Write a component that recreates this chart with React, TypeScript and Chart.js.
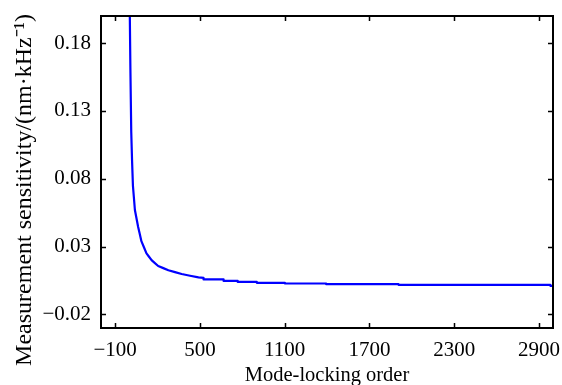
import React, { useEffect, useRef } from "react";
import { Chart, registerables } from "chart.js";

Chart.register(...registerables);

const orderValues = [
  4, 8, 14, 20, 26, 40, 63, 86, 122, 158, 205, 277, 371, 490,
  526, 526, 668, 668, 768, 768, 903, 903, 1102, 1102, 1394, 1394, 1906, 1906, 2981, 2981, 3000,
];
const sensitivityValues = [
  0.2, 0.162, 0.115, 0.093, 0.075, 0.057, 0.0445, 0.034, 0.025, 0.02, 0.0157, 0.0126, 0.0098, 0.0073,
  0.0069, 0.0058, 0.0058, 0.0047, 0.0047, 0.004, 0.004, 0.0033, 0.0033, 0.0028, 0.0028, 0.0023, 0.0023, 0.0018, 0.0018, 0.0011, 0.0011,
];
const xTickValues = [-100, 500, 1100, 1700, 2300, 2900];
const yTickValues = [-0.02, 0.03, 0.08, 0.13, 0.18];

const xTitle = "Mode-locking order";
const yTitle = "Measurement sensitivity/(nm\u00b7kHz\u207b\u00b9)";

const FONT = "'Liberation Serif', 'Times New Roman', serif";

const fmt = (v: number, digits: number) => {
  const s = v.toFixed(digits);
  return s.startsWith("-") ? "\u2212" + s.slice(1) : s;
};

const framePlugin = {
  id: "frame",
  afterDraw(chart: any) {
    const { ctx, chartArea } = chart;
    const { left, right, top, bottom } = chartArea;
    const xs = chart.scales.x;
    const ys = chart.scales.y;
    const tl = 5;
    ctx.save();
    ctx.strokeStyle = "#000";
    ctx.lineWidth = 1.5;
    ctx.beginPath();
    for (const v of xTickValues) {
      const px = Math.round(xs.getPixelForValue(v)) + 0.5;
      ctx.moveTo(px, bottom);
      ctx.lineTo(px, bottom - tl);
      ctx.moveTo(px, top);
      ctx.lineTo(px, top + tl);
    }
    for (const v of yTickValues) {
      const py = Math.round(ys.getPixelForValue(v)) + 0.5;
      ctx.moveTo(left, py);
      ctx.lineTo(left + tl, py);
      ctx.moveTo(right, py);
      ctx.lineTo(right - tl, py);
    }
    ctx.stroke();
    ctx.lineWidth = 2;
    ctx.strokeRect(left, top, right - left, bottom - top);
    // y axis title
    ctx.fillStyle = "#000";
    ctx.font = `24px ${FONT}`;
    ctx.translate(31, 190);
    ctx.rotate(-Math.PI / 2);
    ctx.textAlign = "center";
    ctx.textBaseline = "alphabetic";
    ctx.fillText(yTitle, 0, 0);
    ctx.restore();
  },
};

const zeroPad = (s: any) => {
  s.paddingTop = 0;
  s.paddingBottom = 0;
  s.paddingLeft = 0;
  s.paddingRight = 0;
};

export default function App() {
  const ref = useRef<HTMLCanvasElement | null>(null);
  useEffect(() => {
    if (!ref.current) return;
    const points = orderValues.map((x, i) => ({ x, y: sensitivityValues[i] }));
    const chart = new Chart(ref.current, {
      type: "line",
      data: {
        datasets: [
          {
            data: points,
            borderColor: "#0000ff",
            borderWidth: 2.2,
            pointRadius: 0,
            tension: 0.0001,
            borderJoinStyle: "round",
            fill: false,
          },
        ],
      },
      options: {
        animation: false,
        responsive: false,
        devicePixelRatio: 1,
        layout: { padding: { top: 16, right: 9, left: 0, bottom: 0 } },
        plugins: { legend: { display: false }, tooltip: { enabled: false } },
        scales: {
          x: {
            type: "linear",
            min: -200,
            max: 3000,
            afterBuildTicks: (s: any) => {
              s.ticks = xTickValues.map((v) => ({ value: v }));
            },
            afterFit: (s: any) => {
              s.height = 57;
              zeroPad(s);
            },
            grid: { display: false, drawTicks: false },
            border: { display: false },
            ticks: {
              autoSkip: false,
              maxRotation: 0,
              padding: 10,
              color: "#000",
              font: { family: FONT, size: 21 },
              callback: (v: any) => fmt(Number(v), 0),
            },
            title: {
              display: true,
              text: xTitle,
              color: "#000",
              font: { family: FONT, size: 20.5 },
              padding: { top: 0, bottom: -3 },
            },
          },
          y: {
            type: "linear",
            min: -0.03,
            max: 0.2,
            afterBuildTicks: (s: any) => {
              s.ticks = yTickValues.map((v) => ({ value: v }));
            },
            afterFit: (s: any) => {
              s.width = 101;
              zeroPad(s);
            },
            grid: { display: false, drawTicks: false },
            border: { display: false },
            ticks: {
              autoSkip: false,
              padding: 10,
              color: "#000",
              font: { family: FONT, size: 21 },
              callback: (v: any) => fmt(Number(v), 2),
            },
          },
        },
      },
      plugins: [framePlugin],
    });
    return () => chart.destroy();
  }, []);
  return (
    <div style={{ position: "absolute", left: 0, top: 0, width: 562, height: 385, background: "#fff" }}>
      <canvas ref={ref} width={562} height={385} />
    </div>
  );
}
